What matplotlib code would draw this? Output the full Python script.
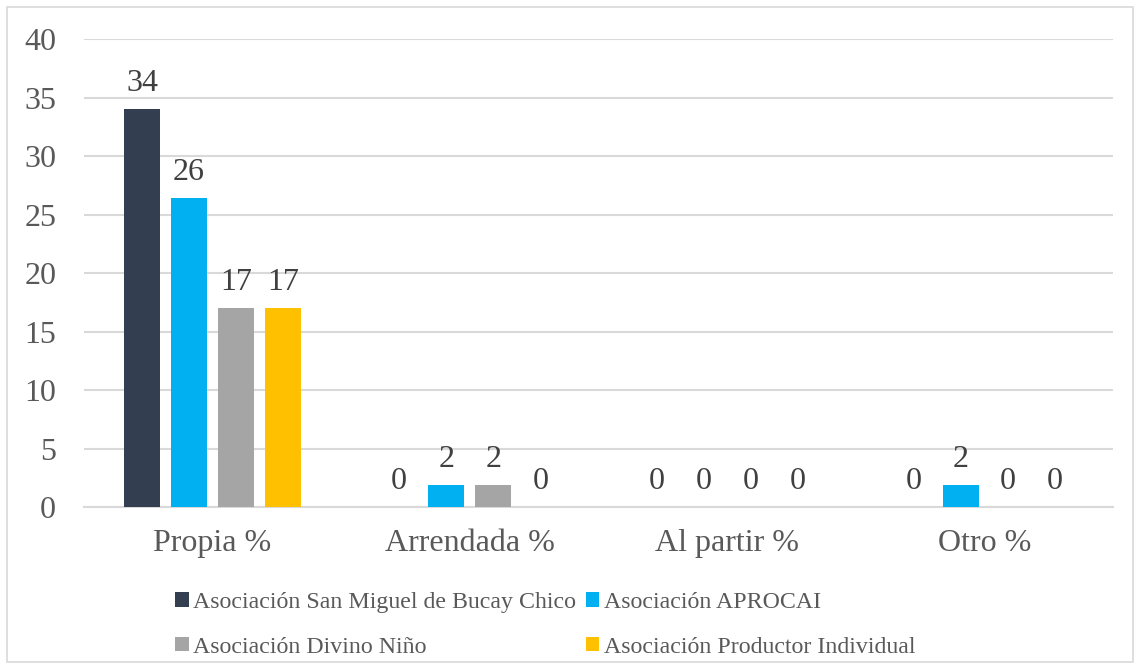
import numpy as np
import matplotlib.pyplot as plt
from matplotlib.patches import Rectangle

# data
categories = ["Propia %", "Arrendada %", "Al partir %", "Otro %"]
series_names = ["Asociación San Miguel de Bucay Chico", "Asociación APROCAI",
                "Asociación Divino Niño", "Asociación Productor Individual"]
san_miguel = [34, 0, 0, 0]
aprocai = [26.4, 1.9, 0, 1.9]
divino = [17, 1.9, 0, 0]
productor = [17, 0, 0, 0]
colors = ["#333F50", "#00B0F0", "#A5A5A5", "#FFC000"]

plt.rcParams['font.family'] = ['Liberation Serif', 'DejaVu Serif']

fig = plt.figure(figsize=(11.39, 6.68), dpi=100)
ax = fig.add_axes([0.0737, 0.241, 0.9033, 0.7006])

x = np.arange(len(categories))
step = 0.183
width = 0.14
bars = []
for i, vals in enumerate([san_miguel, aprocai, divino, productor]):
    b = ax.bar(x + (i - 1.5) * step, vals, width, color=colors[i],
               label=series_names[i], zorder=3)
    ax.bar_label(b, labels=["%.0f" % v for v in vals], padding=8,
                 fontsize=23, color="#404040")
    bars.append(b)

ax.set_ylim(0, 40)
ax.set_xlim(-0.5, 3.5)
ax.set_yticks(range(0, 41, 5))
ax.set_xticks(x)
ax.set_xticklabels(categories)
ax.tick_params(axis='both', length=0, labelsize=23, labelcolor="#595959")
ax.tick_params(axis='y', pad=20)
ax.tick_params(axis='x', pad=16)
ax.yaxis.grid(True, color="#D9D9D9", linewidth=1.5, zorder=0)
for s in ["top", "right", "left"]:
    ax.spines[s].set_visible(False)
ax.spines["bottom"].set_color("#D9D9D9")
ax.spines["bottom"].set_linewidth(1.5)

# legend: row 1 San Miguel / APROCAI, row 2 Divino / Productor
order = [0, 2, 1, 3]
leg = fig.legend([bars[k] for k in order], [series_names[k] for k in order],
                 ncol=2, loc="upper left", bbox_to_anchor=(0.1435, 0.132),
                 frameon=False, fontsize=17.2, handlelength=0.55, handleheight=0.55,
                 handletextpad=0.2, columnspacing=0.42, labelspacing=1.0,
                 borderpad=0, labelcolor="#595959")

fig.patches.append(Rectangle((0.006, 0.009), 0.989, 0.98, transform=fig.transFigure,
                             fill=False, edgecolor="#D9D9D9", linewidth=1.2))

fig.savefig("out.png", dpi=100)
